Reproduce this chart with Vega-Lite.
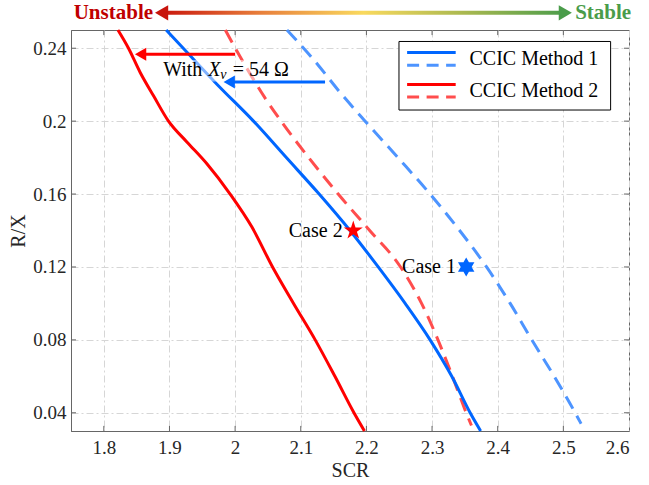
{
  "$schema": "https://vega.github.io/schema/vega-lite/v6.json",
  "width": 558,
  "height": 401,
  "autosize": {"type": "none"},
  "padding": {"left": 71, "top": 30, "right": 20, "bottom": 54},
  "config": {
    "view": {"stroke": "#666666", "strokeWidth": 1},
    "axis": {
      "labelFont": "Liberation Serif",
      "labelFontSize": 19,
      "labelColor": "#262626",
      "titleFont": "Liberation Serif",
      "titleFontSize": 20,
      "titleFontWeight": "normal",
      "titleColor": "#262626",
      "domainColor": "#666666",
      "gridColor": "#d6d6d6",
      "gridDash": [7, 3, 2, 3],
      "gridWidth": 1
    }
  },
  "encoding": {
    "x": {
      "field": "scr", "type": "quantitative",
      "scale": {"domain": [1.75, 2.6], "nice": false, "zero": false},
      "axis": {"title": "SCR", "values": [1.8, 1.9, 2, 2.1, 2.2, 2.3, 2.4, 2.5, 2.6], "format": "~g", "ticks": false, "labelPadding": 7, "titlePadding": 3}
    },
    "y": {
      "field": "rx", "type": "quantitative",
      "scale": {"domain": [0.03, 0.25], "nice": false, "zero": false},
      "axis": {"title": "R/X", "values": [0.04, 0.08, 0.12, 0.16, 0.2, 0.24], "format": "~g", "ticks": false, "labelPadding": 5, "titlePadding": 4}
    }
  },
  "layer": [
    {
      "data": {"values": [
        {"scr": 1.8, "rx": 0.03, "rx2": 0.0328}, {"scr": 1.9, "rx": 0.03, "rx2": 0.0328}, {"scr": 2, "rx": 0.03, "rx2": 0.0328},
        {"scr": 2.1, "rx": 0.03, "rx2": 0.0328}, {"scr": 2.2, "rx": 0.03, "rx2": 0.0328}, {"scr": 2.3, "rx": 0.03, "rx2": 0.0328},
        {"scr": 2.4, "rx": 0.03, "rx2": 0.0328}, {"scr": 2.5, "rx": 0.03, "rx2": 0.0328},
        {"scr": 1.8, "rx": 0.25, "rx2": 0.2472}, {"scr": 1.9, "rx": 0.25, "rx2": 0.2472}, {"scr": 2, "rx": 0.25, "rx2": 0.2472},
        {"scr": 2.1, "rx": 0.25, "rx2": 0.2472}, {"scr": 2.2, "rx": 0.25, "rx2": 0.2472}, {"scr": 2.3, "rx": 0.25, "rx2": 0.2472},
        {"scr": 2.4, "rx": 0.25, "rx2": 0.2472}, {"scr": 2.5, "rx": 0.25, "rx2": 0.2472}
      ]},
      "mark": {"type": "rule", "strokeWidth": 1, "color": "#666666"},
      "encoding": {"y2": {"field": "rx2"}}
    },
    {
      "data": {"values": [
        {"scr": 1.75, "scr2": 1.7576, "rx": 0.04}, {"scr": 1.75, "scr2": 1.7576, "rx": 0.08}, {"scr": 1.75, "scr2": 1.7576, "rx": 0.12},
        {"scr": 1.75, "scr2": 1.7576, "rx": 0.16}, {"scr": 1.75, "scr2": 1.7576, "rx": 0.2}, {"scr": 1.75, "scr2": 1.7576, "rx": 0.24},
        {"scr": 2.6, "scr2": 2.5924, "rx": 0.04}, {"scr": 2.6, "scr2": 2.5924, "rx": 0.08}, {"scr": 2.6, "scr2": 2.5924, "rx": 0.12},
        {"scr": 2.6, "scr2": 2.5924, "rx": 0.16}, {"scr": 2.6, "scr2": 2.5924, "rx": 0.2}, {"scr": 2.6, "scr2": 2.5924, "rx": 0.24}
      ]},
      "mark": {"type": "rule", "strokeWidth": 1, "color": "#666666"},
      "encoding": {"x2": {"field": "scr2"}}
    },
    {
      "data": {"values": [
        {"scr": 2.079, "rx": 0.25}, {"scr": 2.119, "rx": 0.234}, {"scr": 2.16, "rx": 0.2157}, {"scr": 2.198, "rx": 0.2},
        {"scr": 2.248, "rx": 0.18}, {"scr": 2.297, "rx": 0.16}, {"scr": 2.342, "rx": 0.14}, {"scr": 2.383, "rx": 0.12},
        {"scr": 2.419, "rx": 0.1}, {"scr": 2.452, "rx": 0.08}, {"scr": 2.486, "rx": 0.06}, {"scr": 2.518, "rx": 0.04},
        {"scr": 2.527, "rx": 0.034}
      ]},
      "mark": {"type": "line", "strokeWidth": 3, "color": "#4d94ff", "strokeDash": [14, 8], "interpolate": "monotone"}
    },
    {
      "data": {"values": [
        {"scr": 1.985, "rx": 0.25}, {"scr": 2.013, "rx": 0.232}, {"scr": 2.045, "rx": 0.213}, {"scr": 2.07, "rx": 0.2},
        {"scr": 2.112, "rx": 0.18}, {"scr": 2.157, "rx": 0.16}, {"scr": 2.205, "rx": 0.14}, {"scr": 2.252, "rx": 0.12},
        {"scr": 2.284, "rx": 0.1}, {"scr": 2.309, "rx": 0.08}, {"scr": 2.331, "rx": 0.06}, {"scr": 2.352, "rx": 0.04},
        {"scr": 2.36, "rx": 0.033}
      ]},
      "mark": {"type": "line", "strokeWidth": 3, "color": "#ff4d4d", "strokeDash": [14, 8], "interpolate": "monotone"}
    },
    {
      "data": {"values": [
        {"scr": 1.895, "rx": 0.25}, {"scr": 1.921, "rx": 0.24}, {"scr": 1.973, "rx": 0.22}, {"scr": 2.028, "rx": 0.2},
        {"scr": 2.078, "rx": 0.18}, {"scr": 2.128, "rx": 0.16}, {"scr": 2.175, "rx": 0.14}, {"scr": 2.218, "rx": 0.12},
        {"scr": 2.259, "rx": 0.1}, {"scr": 2.297, "rx": 0.08}, {"scr": 2.33, "rx": 0.06}, {"scr": 2.358, "rx": 0.04},
        {"scr": 2.374, "rx": 0.03}
      ]},
      "mark": {"type": "line", "strokeWidth": 3, "color": "#0066ff", "interpolate": "monotone"}
    },
    {
      "data": {"values": [
        {"scr": 1.8215, "rx": 0.25}, {"scr": 1.8376, "rx": 0.24}, {"scr": 1.8554, "rx": 0.2267}, {"scr": 1.8757, "rx": 0.2139},
        {"scr": 1.8985, "rx": 0.2}, {"scr": 1.9265, "rx": 0.1886}, {"scr": 1.957, "rx": 0.1766}, {"scr": 1.9924, "rx": 0.16},
        {"scr": 2.0254, "rx": 0.142}, {"scr": 2.057, "rx": 0.12}, {"scr": 2.089, "rx": 0.1}, {"scr": 2.122, "rx": 0.08},
        {"scr": 2.152, "rx": 0.06}, {"scr": 2.181, "rx": 0.04}, {"scr": 2.197, "rx": 0.03}
      ]},
      "mark": {"type": "line", "strokeWidth": 3, "color": "#ff0000", "interpolate": "monotone"}
    },
    {
      "data": {"values": [{"scr": 2.18, "rx": 0.14}]},
      "mark": {"type": "point", "shape": "M0,-1 L0.2245,-0.309 L0.951,-0.309 L0.363,0.118 L0.588,0.809 L0,0.382 L-0.588,0.809 L-0.363,0.118 L-0.951,-0.309 L-0.2245,-0.309 Z", "filled": true, "size": 400, "opacity": 1, "color": "#ff0000"}
    },
    {
      "data": {"values": [{"scr": 2.352, "rx": 0.12}]},
      "mark": {"type": "point", "shape": "M0,-1 L0.2887,-0.5 L0.866,-0.5 L0.577,0 L0.866,0.5 L0.2887,0.5 L0,1 L-0.2887,0.5 L-0.866,0.5 L-0.577,0 L-0.866,-0.5 L-0.2887,-0.5 Z", "filled": true, "size": 360, "opacity": 1, "color": "#0066ff"}
    },
    {
      "data": {"values": [{"label": "Case 2", "scr": 2.1638, "rx": 0.14}, {"label": "Case 1", "scr": 2.3364, "rx": 0.12}]},
      "mark": {"type": "text", "align": "right", "baseline": "middle", "fontSize": 20, "color": "#000000", "font": "Liberation Serif"},
      "encoding": {"text": {"field": "label"}}
    },
    {
      "data": {"values": [{"scr": 1.8904, "scr2": 2.085, "rx": 0.2218, "rx2": 0.2335}]},
      "mark": {"type": "rect", "fill": "#ffffff", "opacity": 0.5},
      "encoding": {"x2": {"field": "scr2"}, "y2": {"field": "rx2"}}
    },
    {
      "data": {"values": [{"scr": 2.0, "scr2": 1.853, "rx": 0.2367}]},
      "mark": {"type": "rule", "strokeWidth": 3, "color": "#ff0000"},
      "encoding": {"x2": {"field": "scr2"}}
    },
    {
      "data": {"values": [{"scr": 2.137, "scr2": 1.99, "rx": 0.2215}]},
      "mark": {"type": "rule", "strokeWidth": 3, "color": "#0066ff"},
      "encoding": {"x2": {"field": "scr2"}}
    },
    {
      "data": {"values": [{"scr": 1.856, "rx": 0.2367}]},
      "mark": {"type": "point", "shape": "triangle-left", "filled": true, "size": 170, "opacity": 1, "color": "#ff0000"}
    },
    {
      "data": {"values": [{"scr": 1.991, "rx": 0.2215}]},
      "mark": {"type": "point", "shape": "triangle-left", "filled": true, "size": 170, "opacity": 1, "color": "#0066ff"}
    },
    {
      "data": {"values": [{"label": "With", "scr": 1.8904, "rx": 0.2282}]},
      "mark": {"type": "text", "align": "left", "baseline": "middle", "fontSize": 20, "color": "#000000", "font": "Liberation Serif"},
      "encoding": {"text": {"field": "label"}}
    },
    {
      "data": {"values": [{"label": "X", "scr": 1.9589, "rx": 0.2282}]},
      "mark": {"type": "text", "align": "left", "baseline": "middle", "fontSize": 20, "fontStyle": "italic", "color": "#000000", "font": "Liberation Serif"},
      "encoding": {"text": {"field": "label"}}
    },
    {
      "data": {"values": [{"label": "v", "scr": 1.9772, "rx": 0.2282}]},
      "mark": {"type": "text", "align": "left", "baseline": "middle", "fontSize": 14, "fontStyle": "italic", "dy": 5, "color": "#000000", "font": "Liberation Serif"},
      "encoding": {"text": {"field": "label"}}
    },
    {
      "data": {"values": [{"label": "= 54 Ω", "scr": 1.9965, "rx": 0.2282}]},
      "mark": {"type": "text", "align": "left", "baseline": "middle", "fontSize": 20, "color": "#000000", "font": "Liberation Serif"},
      "encoding": {"text": {"field": "label"}}
    },
    {
      "data": {"values": [{"scr": 2.2496, "scr2": 2.572, "rx": 0.2061, "rx2": 0.2437}]},
      "mark": {"type": "rect", "fill": "#ffffff", "stroke": "#000000", "strokeWidth": 1},
      "encoding": {"x2": {"field": "scr2"}, "y2": {"field": "rx2"}}
    },
    {
      "data": {"values": [{"scr": 2.262, "scr2": 2.336, "rx": 0.2376}]},
      "mark": {"type": "rule", "strokeWidth": 3, "color": "#0066ff"},
      "encoding": {"x2": {"field": "scr2"}}
    },
    {
      "data": {"values": [{"scr": 2.262, "scr2": 2.336, "rx": 0.2306}]},
      "mark": {"type": "rule", "strokeWidth": 3, "color": "#4d94ff", "strokeDash": [12, 7.5]},
      "encoding": {"x2": {"field": "scr2"}}
    },
    {
      "data": {"values": [{"scr": 2.262, "scr2": 2.336, "rx": 0.2201}]},
      "mark": {"type": "rule", "strokeWidth": 3, "color": "#ff0000"},
      "encoding": {"x2": {"field": "scr2"}}
    },
    {
      "data": {"values": [{"scr": 2.262, "scr2": 2.336, "rx": 0.2133}]},
      "mark": {"type": "rule", "strokeWidth": 3, "color": "#ff4d4d", "strokeDash": [12, 7.5]},
      "encoding": {"x2": {"field": "scr2"}}
    },
    {
      "data": {"values": [{"label": "CCIC Method 1", "scr": 2.357, "rx": 0.2342}, {"label": "CCIC Method 2", "scr": 2.357, "rx": 0.2165}]},
      "mark": {"type": "text", "align": "left", "baseline": "middle", "fontSize": 20, "color": "#000000", "font": "Liberation Serif"},
      "encoding": {"text": {"field": "label"}}
    },
    {
      "data": {"values": [{"scr": 1.885, "scr2": 2.505, "rx": 0.2583, "rx2": 0.2605}]},
      "mark": {"type": "rect", "color": {"gradient": "linear", "x1": 0, "x2": 1, "y1": 0, "y2": 0,
        "stops": [
          {"offset": 0, "color": "#c8140c"},
          {"offset": 0.25, "color": "#e8803c"},
          {"offset": 0.5, "color": "#f9d95e"},
          {"offset": 0.75, "color": "#a9b850"},
          {"offset": 1, "color": "#4a9c4a"}
        ]}},
      "encoding": {"x2": {"field": "scr2"}, "y2": {"field": "rx2"}}
    },
    {
      "data": {"values": [{"scr": 1.888, "rx": 0.2594}]},
      "mark": {"type": "point", "shape": "triangle-left", "filled": true, "size": 230, "opacity": 1, "color": "#c8140c"}
    },
    {
      "data": {"values": [{"scr": 2.503, "rx": 0.2594}]},
      "mark": {"type": "point", "shape": "triangle-right", "filled": true, "size": 230, "opacity": 1, "color": "#4a9c4a"}
    },
    {
      "data": {"values": [{"label": "Unstable", "scr": 1.875, "rx": 0.2594}]},
      "mark": {"type": "text", "align": "right", "baseline": "middle", "fontSize": 21, "fontWeight": "bold", "font": "Liberation Serif", "color": "#c00000"},
      "encoding": {"text": {"field": "label"}}
    },
    {
      "data": {"values": [{"label": "Stable", "scr": 2.518, "rx": 0.2594}]},
      "mark": {"type": "text", "align": "left", "baseline": "middle", "fontSize": 21, "fontWeight": "bold", "font": "Liberation Serif", "color": "#4a9c4a"},
      "encoding": {"text": {"field": "label"}}
    }
  ]
}
